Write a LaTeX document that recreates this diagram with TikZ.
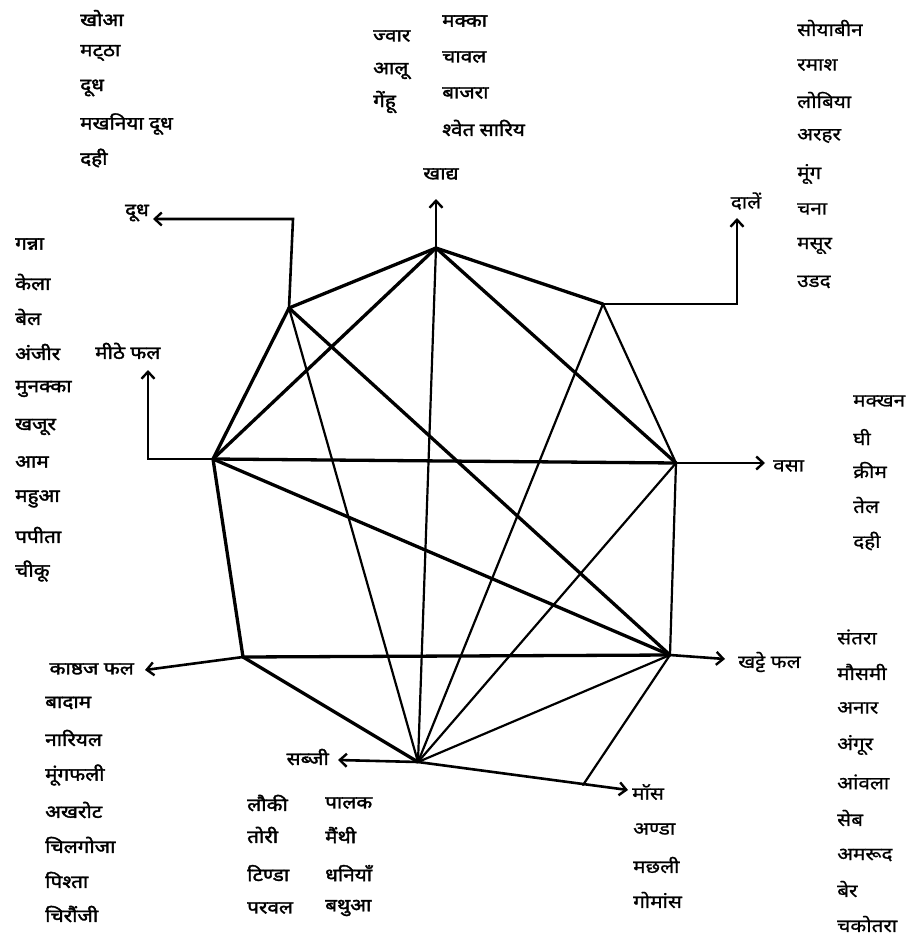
\documentclass[tikz,border=0pt]{standalone}
\usepackage{fontspec}
\newfontfamily\dev[Script=Devanagari,FakeStretch=1.15,FakeBold=0.8]{Noto Sans}
\newfontfamily\devb[Script=Devanagari,FakeStretch=1.15,FakeBold=2]{Noto Sans}
\usetikzlibrary{arrows.meta}
\begin{document}
\begin{tikzpicture}[x=1pt,y=-1pt,
  lbl/.style={font=\devb\fontsize{18}{20}\selectfont, inner sep=0pt, anchor=west},
  lbr/.style={font=\dev\fontsize{18}{20}\selectfont, inner sep=0pt, anchor=west},
  thk/.style={line width=3.3pt, line cap=round},
  thn/.style={line width=2.2pt, line cap=round},
  arr/.style={line width=2.6pt, -{Straight Barb[length=7pt,width=13pt,line width=2.4pt]}}]
\useasboundingbox (0,0) rectangle (913,939);
% vertices
\coordinate (A) at (436,248);
\coordinate (B) at (289,308);
\coordinate (C) at (603,304);
\coordinate (D) at (213,459);
\coordinate (E) at (676,463);
\coordinate (F) at (243,657);
\coordinate (G) at (670,655);
\coordinate (H) at (418,762);
\coordinate (J) at (583,785);
% bend points / arrow ends
\coordinate (Bk) at (293,219);
\coordinate (Bt) at (153,219);
\coordinate (Ck) at (737,304);
\coordinate (Ct) at (737,218);
\coordinate (Dk) at (148,459);
\coordinate (Dt) at (148,370);
\coordinate (At) at (436,199);
\coordinate (Et) at (765,463);
\coordinate (Gt) at (725,659);
\coordinate (Ft) at (145,670);
\coordinate (Ht) at (338,760);
\coordinate (Mt) at (628,790);
% outer and inner lines
\draw[thk] (A) -- (B);
\draw[thk] (A) -- (C);
\draw[thk] (A) -- (D);
\draw[thk] (A) -- (E);
\draw[thn] (A) -- (H);
\draw[thk] (B) -- (D);
\draw[thn] (B) -- (H);
\draw[thk] (B) -- (G);
\draw[thn] (C) -- (E);
\draw[thn] (C) -- (H);
\draw[thk] (D) -- (E);
\draw[thk] (D) -- (G);
\draw[thk] (D) -- (F);
\draw[thn] (E) -- (G);
\draw[thn] (E) -- (H);
\draw[thk] (F) -- (G);
\draw[thk] (F) -- (H);
\draw[thn] (G) -- (H);
\draw[thn] (G) -- (J);
% arrows
\draw[arr] (A) -- (At);
\draw[arr] (B) -- (Bk) -- (Bt);
\draw[arr] (C) -- (Ck) -- (Ct);
\draw[arr] (D) -- (Dk) -- (Dt);
\draw[arr] (E) -- (Et);
\draw[arr] (G) -- (Gt);
\draw[arr] (F) -- (Ft);
\draw[arr] (H) -- (Ht);
\draw[arr] (H) -- (Mt);
% category labels
\node[lbl, anchor=center] (khadya) at (441,174) {खाद्य};
\node[lbl, anchor=east] (dudh) at (149,213) {दूध};
\node[lbr, anchor=center] (dalen) at (746,201) {दालें};
\node[lbl] (meethe) at (95,351) {मीठे फल};
\node[lbr] (vasa) at (773,466) {वसा};
\node[lbr] (khatte) at (738,662) {खट्टे फल};
\node[lbl, anchor=east] (kashthaj) at (134,669) {काष्ठज फल};
\node[lbl, anchor=east] (sabji) at (329,757) {सब्जी};
\node[lbr] (maans) at (632,792) {मॉस};
% lists
\foreach \t/\y [count=\i] in {खोआ/18, मट्^^^^200cठा/53, दूध/88, मखनिया दूध/124, दही/158}
  \node[lbl] (dl\i) at (80,\y) {\t};
\foreach \t/\y [count=\i] in {ज्वार/36, आलू/71, गेंहू/102}
  \node[lbl] (ka\i) at (373,\y) {\t};
\foreach \t/\y [count=\i] in {मक्का/21, चावल/57, बाजरा/93, श्वेत सारिय/128}
  \node[lbl] (kb\i) at (442,\y) {\t};
\foreach \t/\y [count=\i] in {सोयाबीन/28, रमाश/65, लोबिया/100, अरहर/136, मूंग/174, चना/209, मसूर/246, उडद/282}
  \node[lbr] (da\i) at (797,\y) {\t};
\foreach \t/\y [count=\i] in {गन्ना/244, केला/282, बेल/317, अंजीर/352, मुनक्का/389, खजूर/427, आम/462, महुआ/499, पपीता/535, चीकू/571}
  \node[lbl] (mf\i) at (15,\y) {\t};
\foreach \t/\y [count=\i] in {मक्खन/401, घी/437, क्रीम/470, तेल/505, दही/541}
  \node[lbr] (va\i) at (853,\y) {\t};
\foreach \t/\y [count=\i] in {संतरा/637, मौसमी/672, अनार/708, अंगूर/745, आंवला/782, सेब/818, अमरूद/855, बेर/889, चकोतरा/924}
  \node[lbr] (kf\i) at (837,\y) {\t};
\foreach \t/\y [count=\i] in {बादाम/703, नारियल/738, मूंगफली/775, अखरोट/810, चिलगोजा/845, पिश्ता/880, चिरौंजी/914}
  \node[lbl] (kj\i) at (45,\y) {\t};
\foreach \t/\y [count=\i] in {लौकी/803, तोरी/835, टिण्डा/873, परवल/908}
  \node[lbl] (sa\i) at (247,\y) {\t};
\foreach \t/\y [count=\i] in {पालक/803, मैंथी/835, धनियाँ/873, बथुआ/908}
  \node[lbl] (sb\i) at (325,\y) {\t};
\foreach \t/\y [count=\i] in {अण्डा/829, मछली/865, गोमांस/900}
  \node[lbr] (ma\i) at (633,\y) {\t};
\end{tikzpicture}
\end{document}
